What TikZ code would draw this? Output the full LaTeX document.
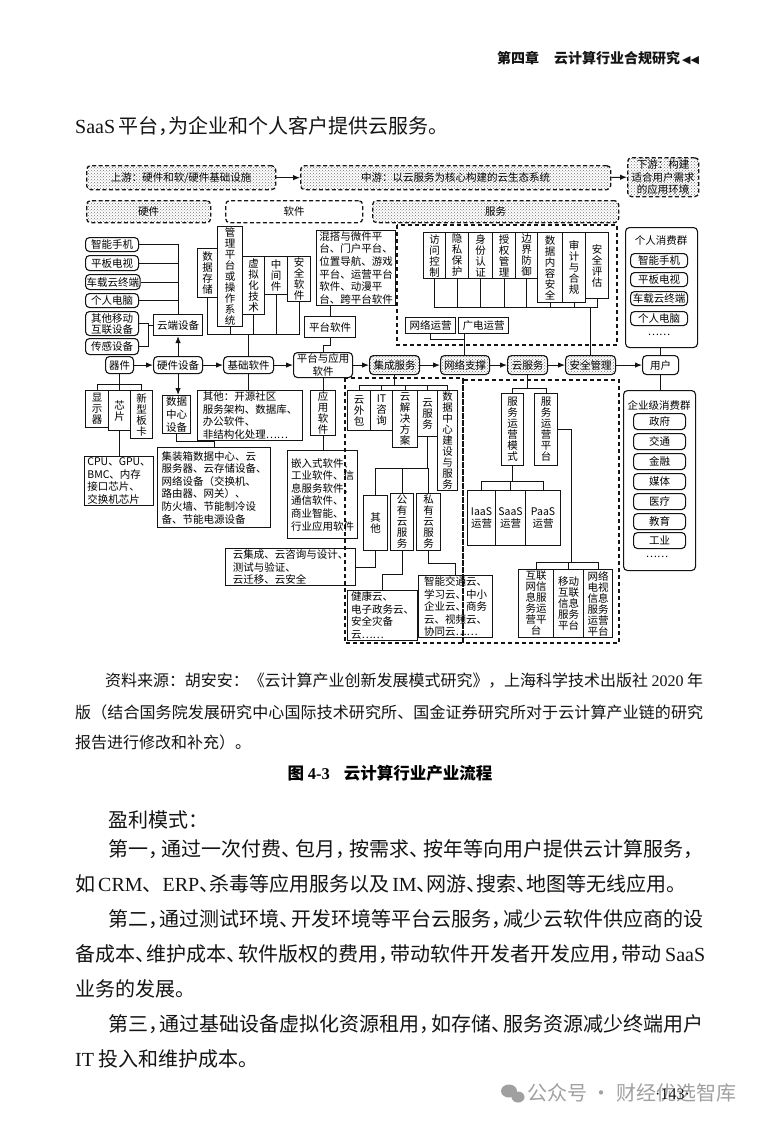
\documentclass[tikz,border=0pt]{standalone}
\usepackage{fontspec}
\setmainfont{Noto Sans CJK SC}
\newfontfamily\lat{Liberation Serif}
\newfontfamily\sym{DejaVu Sans}
\usetikzlibrary{arrows.meta,patterns}

\definecolor{inkcol}{RGB}{20,20,20}
\definecolor{markcol}{RGB}{160,160,160}

% character classes: ideographs and full-width punctuation, so that
% justified lines can stretch and punctuation can be squeezed
\chardef\hancls=41
\chardef\puncls=42
\newcount\cjkc
\newcommand{\setcls}[3]{\cjkc=#1 \loop\XeTeXcharclass\cjkc=#3 \advance\cjkc by 1 \ifnum\cjkc<#2 \repeat}
\setcls{"4E00}{"A000}{\hancls}
\setcls{"3001}{"3020}{\puncls}
\setcls{"FF01}{"FF60}{\puncls}
\XeTeXinterchartokenstate=1
\newcommand{\cjkgap}{\hskip0pt plus 1pt\relax}
\newcommand{\pungap}{\hskip0pt plus 1pt minus 0.5em\relax}
\XeTeXinterchartoks\hancls\hancls = {\cjkgap}
\XeTeXinterchartoks\hancls\puncls = {\cjkgap}
\XeTeXinterchartoks\puncls\hancls = {\pungap}
\XeTeXinterchartoks\puncls\puncls = {\pungap}
\XeTeXinterchartoks 0 \hancls = {\cjkgap}
\XeTeXinterchartoks\hancls 0 = {\cjkgap}
\XeTeXinterchartoks 0 \puncls = {\cjkgap}
\XeTeXinterchartoks\puncls 0 = {\pungap}

\newcommand{\dg}{\fontsize{10.5}{11}\selectfont}
\newcommand{\dgl}{\fontsize{10.5}{12.6}\selectfont}
\newcommand{\bd}{\fontsize{20}{24}\selectfont}
\newcommand{\cp}{\fontsize{16}{20}\selectfont}
\newcommand{\hd}{\fontsize{14}{16}\selectfont\bfseries}

% one character per line
\newcommand{\vt}[1]{\vtfirst#1\relax}
\def\vtfirst#1{#1\vtrest}
\def\vtrest#1{\ifx#1\relax\else\\#1\expandafter\vtrest\fi}

% box from its corners (x1,y1) (x2,y2)
\newcommand{\bx}[7]{\node[#1, anchor=north west, minimum width={(#5-#3)*1pt},
  minimum height={(#6-#4)*1pt}] (#2) at (#3,#4) {#7};}

\begin{document}
\begin{tikzpicture}[x=1pt, y=-1pt,
  sqbox/.style={draw=inkcol, line width=1.1pt, inner sep=1pt, align=center, font=\dg},
  rdbox/.style={sqbox, rounded corners=4pt},
  dotbox/.style={rdbox, pattern=crosshatch dots, pattern color=black!55},
  dashbox/.style={rdbox, line width=1.3pt, dash pattern=on 4pt off 2.5pt},
  dashdot/.style={dashbox, pattern=crosshatch dots, pattern color=black!55},
  zone/.style={draw=inkcol, line width=1.2pt, dash pattern=on 4pt off 3pt},
  wire/.style={draw=inkcol, line width=1pt},
  flow/.style={wire, -{Latex[length=7pt,width=5.5pt]}},
  body/.style={anchor=west, inner sep=0pt, font=\bd, text=inkcol},
  notetext/.style={body, font=\cp}]

\fill[white] (0,0) rectangle (766,1135);
\useasboundingbox (0,0) rectangle (766,1135);

% ------------------------------------------------------------------
% Running head and lead-in line
% ------------------------------------------------------------------
\node[body, font=\hd] (chap) at (497,58) {第四章\hspace{15pt}云计算行业合规研究\hspace{2pt}{\sym\fontsize{11}{12}\selectfont ◀◀}};
\node[body] (lead) at (75,126) {\makebox[352pt][s]{{\lat SaaS} 平台，为企业和个人客户提供云服务。}};

% ------------------------------------------------------------------
% Chain headers: upstream / midstream / downstream
% ------------------------------------------------------------------
\bx{dashdot}{shangyou}{86}{165}{275}{189}{上游：硬件和软/硬件基础设施}
\bx{dashdot}{zhongyou}{300}{165}{610}{189}{中游：以云服务为核心构建的云生态系统}
\bx{dashdot, font=\dgl}{xiayou}{627}{157}{698}{196}{下游：构建\\适合用户需求\\的应用环境}
\bx{dashdot}{yingjian}{86}{200}{210}{222}{硬件}
\bx{dashbox}{ruanjian}{225}{200}{362}{222}{软件}
\bx{dashdot}{fuwu}{372}{200}{618}{222}{服务}

% dashed zones
\draw[zone] (397,225) rectangle (617,345);
\draw[zone] (345,378) rectangle (463,643);
\draw[zone] (463,380) rectangle (619,643);

% ------------------------------------------------------------------
% Terminal devices (left column)
% ------------------------------------------------------------------
\bx{rdbox}{zn1}{85}{237}{138}{251}{智能手机}
\bx{rdbox}{pb1}{85}{255}{138}{270}{平板电视}
\bx{rdbox}{cz1}{85}{274}{138}{289}{车载云终端}
\bx{rdbox}{gr1}{85}{293}{138}{307}{个人电脑}
\bx{rdbox}{qt1}{85}{311}{138}{335}{其他移动\\互联设备}
\bx{rdbox}{cg1}{85}{338}{138}{354}{传感设备}
\bx{sqbox}{ydsb}{153}{314}{202}{335}{云端设备}

% ------------------------------------------------------------------
% Main flow
% ------------------------------------------------------------------
\bx{rdbox}{qj}{105}{356}{133}{373}{器件}
\bx{rdbox}{yjsb}{153}{356}{202}{373}{硬件设备}
\bx{rdbox}{jcrj}{223}{356}{273}{373}{基础软件}
\bx{rdbox, font=\dgl}{ptyy}{293}{352}{352}{377}{平台与应用\\软件}
\bx{dotbox}{jcfw}{369}{355}{419}{374}{集成服务}
\bx{dotbox}{wlzc}{440}{355}{489}{374}{网络支撑}
\bx{dotbox}{yfw}{507}{355}{547}{374}{云服务}
\bx{dotbox}{aqgl}{565}{355}{615}{374}{安全管理}
\bx{rdbox}{yh}{642}{355}{678}{374}{用户}

% ------------------------------------------------------------------
% Software above the flow
% ------------------------------------------------------------------
\bx{sqbox}{sjcc}{197}{248}{217}{297}{\vt{数据存储}}
\bx{sqbox}{glpt}{217}{226}{242}{325}{\vt{管理平台或操作系统}}
\bx{sqbox}{xnh}{242}{256}{264}{314}{\vt{虚拟化技术}}
\bx{sqbox}{zjj}{264}{256}{287}{294}{\vt{中间件}}
\bx{sqbox}{aqrj}{287}{256}{310}{301}{\vt{安全软件}}
\bx{sqbox, font=\dgl, align=left}{hunda}{316}{230}{395}{302}{混搭与微件平\\台、门户平台、\\位置导航、游戏\\平台、运营平台\\软件、动漫平\\台、跨平台软件}
\bx{sqbox}{ptrj}{304}{316}{355}{337}{平台软件}

% ------------------------------------------------------------------
% Security services and operators
% ------------------------------------------------------------------
\bx{sqbox}{fwkz}{423}{232}{445}{278}{\vt{访问控制}}
\bx{sqbox}{ysbh}{445}{232}{468}{278}{\vt{隐私保护}}
\bx{sqbox}{sfrz}{468}{232}{492}{278}{\vt{身份认证}}
\bx{sqbox}{sqgl}{492}{232}{515}{278}{\vt{授权管理}}
\bx{sqbox}{bjfy}{515}{232}{537}{278}{\vt{边界防御}}
\bx{sqbox}{sjnr}{537}{232}{562}{302}{\vt{数据内容安全}}
\bx{sqbox}{sjhg}{562}{232}{585}{302}{\vt{审计与合规}}
\bx{sqbox}{aqpg}{585}{232}{608}{298}{\vt{安全评估}}
\bx{sqbox}{wlyy}{405}{317}{455}{333}{网络运营}
\bx{sqbox}{gdyy}{458}{317}{508}{333}{广电运营}

% ------------------------------------------------------------------
% Users (right column)
% ------------------------------------------------------------------
\bx{rdbox}{grxf}{625}{227}{697}{347}{}
\node[font=\dg] (grxft) at (661,241) {个人消费群};
\bx{rdbox}{gsj}{630}{253}{687}{267}{智能手机}
\bx{rdbox}{gpb}{630}{272}{687}{286}{平板电视}
\bx{rdbox}{gcz}{630}{291}{687}{305}{车载云终端}
\bx{rdbox}{gdn}{630}{311}{687}{325}{个人电脑}
\node[font=\dg] (gdot) at (659,335) {……};

\bx{rdbox}{qyxf}{623}{390}{695}{570}{}
\node[font=\dg] (qyxft) at (659,405) {企业级消费群};
\bx{rdbox}{qzf}{633}{413}{685}{429}{政府}
\bx{rdbox}{qjt}{633}{433}{685}{449}{交通}
\bx{rdbox}{qjr}{633}{453}{685}{469}{金融}
\bx{rdbox}{qmt}{633}{473}{685}{489}{媒体}
\bx{rdbox}{qyl}{633}{493}{685}{509}{医疗}
\bx{rdbox}{qjy}{633}{513}{685}{529}{教育}
\bx{rdbox}{qgy}{633}{532}{685}{548}{工业}
\node[font=\dg] (qdot) at (657,557) {……};

% ------------------------------------------------------------------
% Hardware below the flow
% ------------------------------------------------------------------
\bx{sqbox}{xsq}{85}{390}{108}{427}{\vt{显示器}}
\bx{sqbox}{xp}{108}{390}{130}{430}{\vt{芯片}}
\bx{sqbox}{xxbk}{130}{390}{152}{438}{\vt{新型板卡}}
\bx{sqbox, font=\dgl, align=left}{cpu}{84}{456}{153}{505}{CPU、GPU、\\BMC、内存\\接口芯片、\\交换机芯片}
\bx{sqbox, font=\dgl}{sjzx}{162}{395}{190}{433}{数据\\中心\\设备}
\bx{sqbox, font=\dgl, align=left}{jzx}{157}{447}{270}{527}{集装箱数据中心、云\\服务器、云存储设备、\\网络设备（交换机、\\路由器、网关）、\\防火墙、节能制冷设\\备、节能电源设备}
\bx{sqbox, font=\dgl, align=left}{qtrj}{197}{390}{302}{435}{其他：开源社区\\服务架构、数据库、\\办公软件、\\非结构化处理……}
\bx{sqbox}{yyrj}{310}{390}{335}{433}{\vt{应用软件}}
\bx{sqbox, font=\dgl, align=left}{qrs}{287}{450}{357}{538}{嵌入式软件、\\工业软件、信\\息服务软件、\\通信软件、\\商业智能、\\行业应用软件}

% ------------------------------------------------------------------
% Integration services
% ------------------------------------------------------------------
\bx{sqbox}{ywb}{347}{390}{370}{430}{\vt{云外包}}
\bx{sqbox}{itzx}{370}{390}{392}{430}{IT\\咨\\询}
\bx{sqbox}{yjjfa}{392}{390}{417}{447}{\vt{云解决方案}}
\bx{sqbox}{yfw2}{417}{390}{437}{436}{\vt{云服务}}
\bx{sqbox}{sjzxjs}{437}{390}{457}{489}{\vt{数据中心建设与服务}}
\bx{sqbox}{qt2}{363}{495}{387}{550}{\vt{其他}}
\bx{sqbox}{gy}{390}{493}{413}{550}{\vt{公有云服务}}
\bx{sqbox}{sy2}{416}{493}{440}{550}{\vt{私有云服务}}
\bx{sqbox, font=\dgl, align=left}{yjc}{225}{548}{355}{585}{云集成、云咨询与设计、\\测试与验证、\\云迁移、云安全}
\bx{sqbox, font=\dgl, align=left}{jky}{347}{590}{417}{638}{健康云、\\电子政务云、\\安全灾备\\云……}
\bx{sqbox, font=\dgl, align=left}{znjt}{418}{575}{492}{637}{智能交通云、\\学习云、中小\\企业云、商务\\云、视频云、\\协同云……}

% ------------------------------------------------------------------
% Cloud services
% ------------------------------------------------------------------
\bx{sqbox}{fwms}{501}{393}{523}{465}{\vt{服务运营模式}}
\bx{sqbox}{fwpt}{534}{393}{557}{465}{\vt{服务运营平台}}
\bx{sqbox, font=\dgl}{iaas}{467}{490}{495}{545}{IaaS\\运营}
\bx{sqbox, font=\dgl}{saas}{495}{490}{525}{545}{SaaS\\运营}
\bx{sqbox, font=\dgl}{paas}{525}{490}{560}{545}{PaaS\\运营}
\bx{sqbox}{hlw}{518}{569}{553}{637}{互联\\网信\\息服\\务运\\营平\\台}
\bx{sqbox}{yd}{553}{569}{583}{637}{移动\\互联\\信息\\服务\\平台}
\bx{sqbox}{wlds}{583}{569}{612}{637}{网络\\电视\\信息\\服务\\运营\\平台}

% ------------------------------------------------------------------
% Connectors
% ------------------------------------------------------------------
\draw[flow] (shangyou) -- (zhongyou);
\draw[flow] (zhongyou) -- (xiayou);
\foreach \a/\b in {qj/yjsb, yjsb/jcrj, jcrj/ptyy, ptyy/jcfw, jcfw/wlzc, wlzc/yfw, yfw/aqgl, aqgl/yh}
  {\draw[flow] (\a) -- (\b);}

\foreach \d in {zn1,pb1,cz1,gr1}{\draw[wire] (\d.east) -| (ydsb.north);}
\foreach \d in {qt1,cg1}{\draw[wire] (\d.east) -- ++(9,0) |- (ydsb.west);}
\draw[flow] (yjsb.north) -- (ydsb.south);
\draw[flow] (yjsb.south) -- (yjsb.south |- sjzx.north);

\foreach \d in {sjcc,glpt,xnh,zjj,aqrj}{\draw[wire] (jcrj.north) -- ++(0,-22) -| (\d.south);}
\draw[wire] (ptrj.north) -- (ptrj.north |- hunda.south);
\draw[wire] (ptrj.south) -- ++(0,7) -| (ptyy.north);

\foreach \d in {fwkz,ysbh,sfrz,sqgl,bjfy,sjnr,sjhg,aqpg}{\draw[wire] (aqgl.north) -- ++(0,-48) -| (\d.south);}
\coordinate (wlbus) at (464,339);
\draw[wire] (wlyy.south) |- (wlbus);
\draw[wire] (gdyy.south -| wlbus) -- (wlzc.north -| wlbus);

\foreach \d in {xsq,xp,xxbk}{\draw[wire] (qj.south) -- ++(0,10) -| (\d.north);}
\draw[wire] (xp.south) -- (xp.south |- cpu.north);
\draw[wire] (sjzx.south) -- ++(0,7) -| (jzx.north);
\draw[wire] (jcrj.south) -- (jcrj.south |- qtrj.north);
\draw[wire] (ptyy.south) -- (ptyy.south |- yyrj.north);
\draw[wire] (yyrj.south) -- (yyrj.south |- qrs.north);

\foreach \d in {ywb,itzx,yjjfa,yfw2,sjzxjs}{\draw[wire] (jcfw.south) -- ++(0,10) -| (\d.north);}
\foreach \d in {qt2,gy,sy2}{\draw[wire] (yfw2.south) -- ++(0,31) -| (\d.north);}
\draw[wire] (qt2.south) |- (yjc.east);
\draw[wire] (gy.south) -- ++(0,23) -| (jky.north);
\draw[wire] (sy2.south) -- ++(0,12) -| (znjt.north);

\foreach \d in {fwms,fwpt}{\draw[wire] (yfw.south) -- ++(0,13) -| (\d.north);}
\foreach \d in {iaas,saas,paas}{\draw[wire] (fwms.south) -- ++(0,15) -| (\d.north);}
\coordinate (ptbus) at (571,562);
\draw[wire] (fwpt.east) -| (ptbus);
\foreach \d in {hlw,yd,wlds}{\draw[wire] (ptbus) -| (\d.north);}

\draw[wire] (yh.north) -- (yh.north |- grxf.south);
\draw[wire] (yh.south) -- (yh.south |- qyxf.north);

% ------------------------------------------------------------------
% Source note and caption
% ------------------------------------------------------------------
\node[notetext] (src1) at (105,681) {\makebox[598pt][s]{资料来源：胡安安：《云计算产业创新发展模式研究》，上海科学技术出版社 {\lat 2020} 年}};
\node[notetext] (src2) at (75,712) {\makebox[628pt][s]{版（结合国务院发展研究中心国际技术研究所、国金证券研究所对于云计算产业链的研究}};
\node[notetext] (src3) at (75,742) {报告进行修改和补充）。};
\node[font=\fontsize{16.5}{20}\selectfont\bfseries, inner sep=0pt] (title) at (390,773) {图 {\lat\bfseries 4-3}\hspace{14pt}云计算行业产业流程};

% ------------------------------------------------------------------
% Body text
% ------------------------------------------------------------------
\node[body] (p0) at (108,820) {盈利模式：};
\node[body] (p1) at (108,849) {\makebox[595pt][s]{第一，通过一次付费、包月，按需求、按年等向用户提供云计算服务，}};
\node[body] (p2) at (75,884) {\makebox[600pt][s]{如 {\lat CRM}、{\lat ERP}、杀毒等应用服务以及 {\lat IM}、网游、搜索、地图等无线应用。}};
\node[body] (p3) at (108,919) {\makebox[595pt][s]{第二，通过测试环境、开发环境等平台云服务，减少云软件供应商的设}};
\node[body] (p4) at (75,954) {\makebox[630pt][s]{备成本、维护成本、软件版权的费用，带动软件开发者开发应用，带动 {\lat SaaS}}};
\node[body] (p5) at (75,989) {业务的发展。};
\node[body] (p6) at (108,1024) {\makebox[595pt][s]{第三，通过基础设备虚拟化资源租用，如存储、服务资源减少终端用户}};
\node[body] (p7) at (75,1059) {{\lat IT} 投入和维护成本。};

% page foot
\fill[markcol] (509,1091) ellipse [x radius=8pt, y radius=6.5pt];
\fill[markcol] (518,1097) ellipse [x radius=6.5pt, y radius=5.5pt];
\node[body, text=markcol] (mark) at (527,1093) {公众号 · 财经优选智库};
\node[body, font=\lat\fontsize{16}{18}\selectfont] (folio) at (655,1094) {·143·};

\end{tikzpicture}
\end{document}
